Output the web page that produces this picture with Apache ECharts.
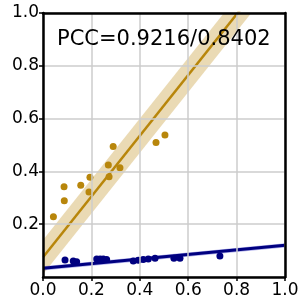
<!DOCTYPE html>
<html>
<head>
<meta charset="utf-8">
<script src="https://cdn.jsdelivr.net/npm/echarts@6/dist/echarts.min.js"></script>
<style>html,body{margin:0;padding:0;background:#fff}#c{width:305px;height:305px}</style>
</head>
<body>
<div id="c"></div>
<script>
// Orange points
var orangeX = [0.043, 0.087, 0.088, 0.156, 0.194, 0.190, 0.270, 0.273, 0.318, 0.290, 0.467, 0.504];
var orangeY = [0.228, 0.342, 0.289, 0.348, 0.378, 0.322, 0.424, 0.380, 0.414, 0.494, 0.509, 0.538];
// Blue points
var blueX = [0.091, 0.125, 0.139, 0.222, 0.236, 0.249, 0.263, 0.373, 0.394, 0.414, 0.435, 0.463, 0.541, 0.566, 0.731];
var blueY = [0.064, 0.061, 0.058, 0.068, 0.068, 0.068, 0.066, 0.061, 0.063, 0.066, 0.068, 0.071, 0.071, 0.071, 0.080];
// Fit lines and bands
var orangeLineX = [0, 0.9];
var orangeLineY = [0.075, 1.11];
var orangeBandLow = [0.010, 1.045];
var orangeBandHigh = [0.140, 1.175];
var blueLineX = [0, 1];
var blueLineY = [0.033, 0.120];
var blueBandLow = [0.025, 0.112];
var blueBandHigh = [0.041, 0.128];
var ticks = [0, 0.2, 0.4, 0.6, 0.8, 1.0];
var annotation = 'PCC=0.9216/0.8402';

var FONT = 'DejaVu Sans';
var chart = echarts.init(document.getElementById('c'));

function zip(xs, ys) { return xs.map(function (x, i) { return [x, ys[i]]; }); }

function bandSeries(xs, low, high, fill) {
  return {
    type: 'custom',
    clip: true,
    silent: true,
    z: 1,
    data: xs.map(function (x, i) { return [x, low[i], high[i]]; }),
    encode: { x: 0, y: [1, 2] },
    renderItem: function (params, api) {
      if (params.dataIndex !== 0) return;
      var pts = [];
      for (var i = 0; i < xs.length; i++) pts.push(api.coord([xs[i], high[i]]));
      for (var j = xs.length - 1; j >= 0; j--) pts.push(api.coord([xs[j], low[j]]));
      return { type: 'polygon', shape: { points: pts }, style: { fill: fill } };
    }
  };
}

function fmt(v) { return v.toFixed(1); }

chart.setOption({
  animation: false,
  grid: { left: 43, right: 20, top: 13, bottom: 28 },
  xAxis: [{
    type: 'value', min: 0, max: 1, interval: 0.2, position: 'bottom', z: 10,
    axisLine: { show: true, onZero: false, lineStyle: { color: '#000', width: 2.5 } },
    axisTick: { show: true, length: 4, lineStyle: { color: '#000', width: 1.5 } },
    splitLine: { show: true, lineStyle: { color: '#cccccc', width: 1.5 } },
    axisLabel: { fontFamily: FONT, fontSize: 17, color: '#000', margin: 5, formatter: fmt }
  }, {
    type: 'value', min: 0, max: 1, interval: 0.2, position: 'top', z: 10,
    axisLine: { show: true, onZero: false, lineStyle: { color: '#000', width: 2.5 } },
    axisTick: { show: false }, axisLabel: { show: false }, splitLine: { show: false }
  }],
  yAxis: [{
    type: 'value', min: 0, max: 1, interval: 0.2, position: 'left', z: 10,
    axisLine: { show: true, onZero: false, lineStyle: { color: '#000', width: 2.5 } },
    axisTick: { show: true, length: 4, lineStyle: { color: '#000', width: 1.5 } },
    splitLine: { show: true, lineStyle: { color: '#cccccc', width: 1.5 } },
    axisLabel: { fontFamily: FONT, fontSize: 17, color: '#000', margin: 4, showMinLabel: false, formatter: fmt }
  }, {
    type: 'value', min: 0, max: 1, interval: 0.2, position: 'right', z: 10,
    axisLine: { show: true, onZero: false, lineStyle: { color: '#000', width: 2.5 } },
    axisTick: { show: false }, axisLabel: { show: false }, splitLine: { show: false }
  }],
  graphic: [{
    type: 'text', left: 57, top: 29, z: 100,
    style: { text: annotation, font: '21px "DejaVu Sans"', fill: '#000' }
  }],
  series: [
    bandSeries(orangeLineX, orangeBandLow, orangeBandHigh, 'rgba(196,150,40,0.35)'),
    bandSeries(blueLineX, blueBandLow, blueBandHigh, 'rgba(40,40,200,0.35)'),
    { type: 'line', z: 2, data: zip(orangeLineX, orangeLineY), showSymbol: false, symbol: 'none', clip: true,
      lineStyle: { color: '#b8860b', width: 2.5 } },
    { type: 'line', z: 2, data: zip(blueLineX, blueLineY), showSymbol: false, symbol: 'none', clip: true,
      lineStyle: { color: '#000080', width: 3 } },
    { type: 'scatter', z: 3, data: zip(orangeX, orangeY), symbolSize: 7, itemStyle: { color: '#b8860b', opacity: 1 } },
    { type: 'scatter', z: 3, data: zip(blueX, blueY), symbolSize: 7, itemStyle: { color: '#000080', opacity: 1 } }
  ]
});
</script>
</body>
</html>
